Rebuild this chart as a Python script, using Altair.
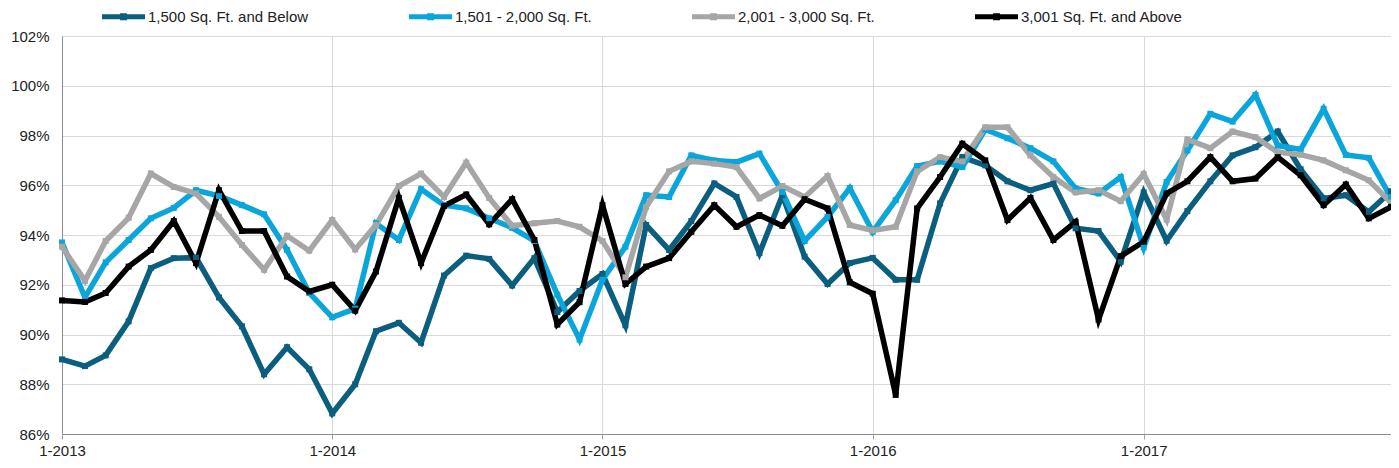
import altair as alt
import pandas as pd

series_names = [
    "1,500 Sq. Ft. and Below",
    "1,501 - 2,000 Sq. Ft.",
    "2,001 - 3,000 Sq. Ft.",
    "3,001 Sq. Ft. and Above",
]
series_colors = ["#0b5e7e", "#0aa5da", "#a6a6a6", "#000000"]

s_1500_below = [
    89.0, 88.73, 89.16, 90.53, 92.67, 93.07, 93.09, 91.49, 90.33, 88.4, 89.49, 88.6,
    86.83, 88.0, 90.13, 90.47, 89.67, 92.37, 93.17, 93.04, 91.97, 93.07, 90.9, 91.75,
    92.43, 90.37, 94.4, 93.4, 94.56, 96.07, 95.53, 93.27, 95.6, 93.13, 92.03, 92.87,
    93.08, 92.2, 92.2, 95.27, 97.13, 96.8, 96.16, 95.8, 96.07, 94.27, 94.16, 92.93,
    95.71, 93.77, 94.96, 96.16, 97.2, 97.53, 98.16, 96.64, 95.47, 95.6, 94.93, 95.76,
]
s_1501_2000 = [
    93.7, 91.49, 92.9, 93.8, 94.67, 95.09, 95.8, 95.57, 95.2, 94.83, 93.4, 91.67,
    90.69, 91.04, 94.47, 93.8, 95.84, 95.2, 95.07, 94.67, 94.29, 93.76, 91.6, 89.8,
    92.2, 93.53, 95.6, 95.53, 97.2, 97.0, 96.93, 97.27, 95.73, 93.76, 94.73, 95.89,
    94.13, 95.4, 96.77, 96.96, 96.73, 98.24, 97.89, 97.49, 96.96, 95.87, 95.67, 96.33,
    93.5, 96.13, 97.4, 98.87, 98.56, 99.63, 97.6, 97.44, 99.07, 97.22, 97.1, 95.5,
]
s_2001_3000 = [
    93.53, 92.16, 93.76, 94.69, 96.47, 95.93, 95.67, 94.73, 93.6, 92.6, 93.97, 93.37,
    94.6, 93.42, 94.4, 95.97, 96.47, 95.53, 96.91, 95.49, 94.37, 94.47, 94.56, 94.33,
    93.76, 92.3, 95.13, 96.56, 96.96, 96.87, 96.73, 95.47, 95.97, 95.53, 96.37, 94.4,
    94.18, 94.33, 96.56, 97.13, 96.96, 98.33, 98.33, 97.2, 96.33, 95.71, 95.8, 95.36,
    96.45, 94.62, 97.84, 97.49, 98.16, 97.93, 97.33, 97.23, 97.0, 96.6, 96.2, 95.3,
]
s_3001_above = [
    91.37, 91.31, 91.67, 92.73, 93.4, 94.56, 92.87, 95.8, 94.16, 94.16, 92.33, 91.73,
    92.0, 90.96, 92.53, 95.49, 92.87, 95.17, 95.63, 94.43, 95.44, 93.8, 90.4, 91.3,
    95.2, 92.03, 92.73, 93.07, 94.13, 95.2, 94.33, 94.8, 94.37, 95.44, 95.07, 92.1,
    91.64, 87.57, 95.07, 96.33, 97.67, 97.0, 94.6, 95.49, 93.8, 94.53, 90.6, 93.15,
    93.73, 95.67, 96.16, 97.13, 96.16, 96.27, 97.13, 96.4, 95.2, 96.03, 94.67, 95.13,
]

months = [d.strftime("%Y-%m-%d") for d in pd.date_range("2013-01-01", periods=60, freq="MS")]
y_ticks = [86, 88, 90, 92, 94, 96, 98, 100, 102]
x_tick_years = [2013, 2014, 2015, 2016, 2017]

rows = []
for name, vals in zip(series_names, [s_1500_below, s_1501_2000, s_2001_3000, s_3001_above]):
    for m, v in zip(months, vals):
        rows.append({"month": m, "series": name, "value": v})
df = pd.DataFrame(rows)

FONT = "Liberation Sans"

x_enc = alt.X(
    "month:T",
    scale=alt.Scale(
        type="utc",
        domain=[alt.DateTime(year=2013, month=1, date=1, utc=True),
                alt.DateTime(year=2017, month=12, date=1, utc=True)],
    ),
    axis=alt.Axis(
        title=None,
        values=[alt.DateTime(year=y, month=1, date=1, utc=True) for y in x_tick_years],
        format="%-m-%Y",
        grid=True,
        gridColor="#d9d9d9",
        tickSize=5,
        tickColor="#a0a0a0",
        domainColor="#8c8c8c",
        labelFontSize=15,
        labelPadding=4,
        labelFlush=False,
        labelColor="#222222",
        labelFont=FONT,
    ),
)
y_enc = alt.Y(
    "value:Q",
    scale=alt.Scale(domain=[86, 102], nice=False, zero=False),
    axis=alt.Axis(
        title=None,
        values=y_ticks,
        labelExpr="datum.value + '%'",
        grid=True,
        gridColor="#d9d9d9",
        ticks=False,
        domainColor="#8c8c8c",
        labelFontSize=15,
        labelPadding=13,
        labelFlush=False,
        labelColor="#222222",
        labelFont=FONT,
    ),
)

legend_symbol = (
    "M-1,-0.12L1,-0.12L1,0.12L-1,0.12Z "
    "M-0.16,-0.16L0.16,-0.16L0.16,0.16L-0.16,0.16Z"
)
legend = alt.Legend(
    title=None,
    orient="none",
    legendX=40,
    legendY=-41,
    direction="horizontal",
    columns=4,
    columnPadding=100,
    symbolType=legend_symbol,
    symbolSize=1849,
    symbolStrokeWidth=0,
    symbolOpacity=1,
    labelFontSize=15,
    labelFont=FONT,
    labelColor="#222222",
    labelOffset=3,
    labelLimit=300,
)
color_enc = alt.Color(
    "series:N",
    scale=alt.Scale(domain=series_names, range=series_colors),
    sort=series_names,
    legend=legend,
)

base = alt.Chart(df)

lines = base.mark_line(strokeWidth=5.5, strokeJoin="miter").encode(
    x=x_enc, y=y_enc, color=color_enc, detail="series:N"
)
points = base.mark_point(shape="square", filled=True, size=36, opacity=1).encode(
    x=x_enc, y=y_enc, color=color_enc
)

chart = (
    alt.layer(lines, points)
    .properties(
        width=1329,
        height=398,
        autosize=alt.AutoSizeParams(type="none"),
        padding={"left": 54, "top": 28, "right": 0, "bottom": 26},
        background="white",
    )
    .configure_view(stroke="#a6a6a6", strokeWidth=1)
)

chart.save("out.html", embed_options={"renderer": "svg", "actions": False})
